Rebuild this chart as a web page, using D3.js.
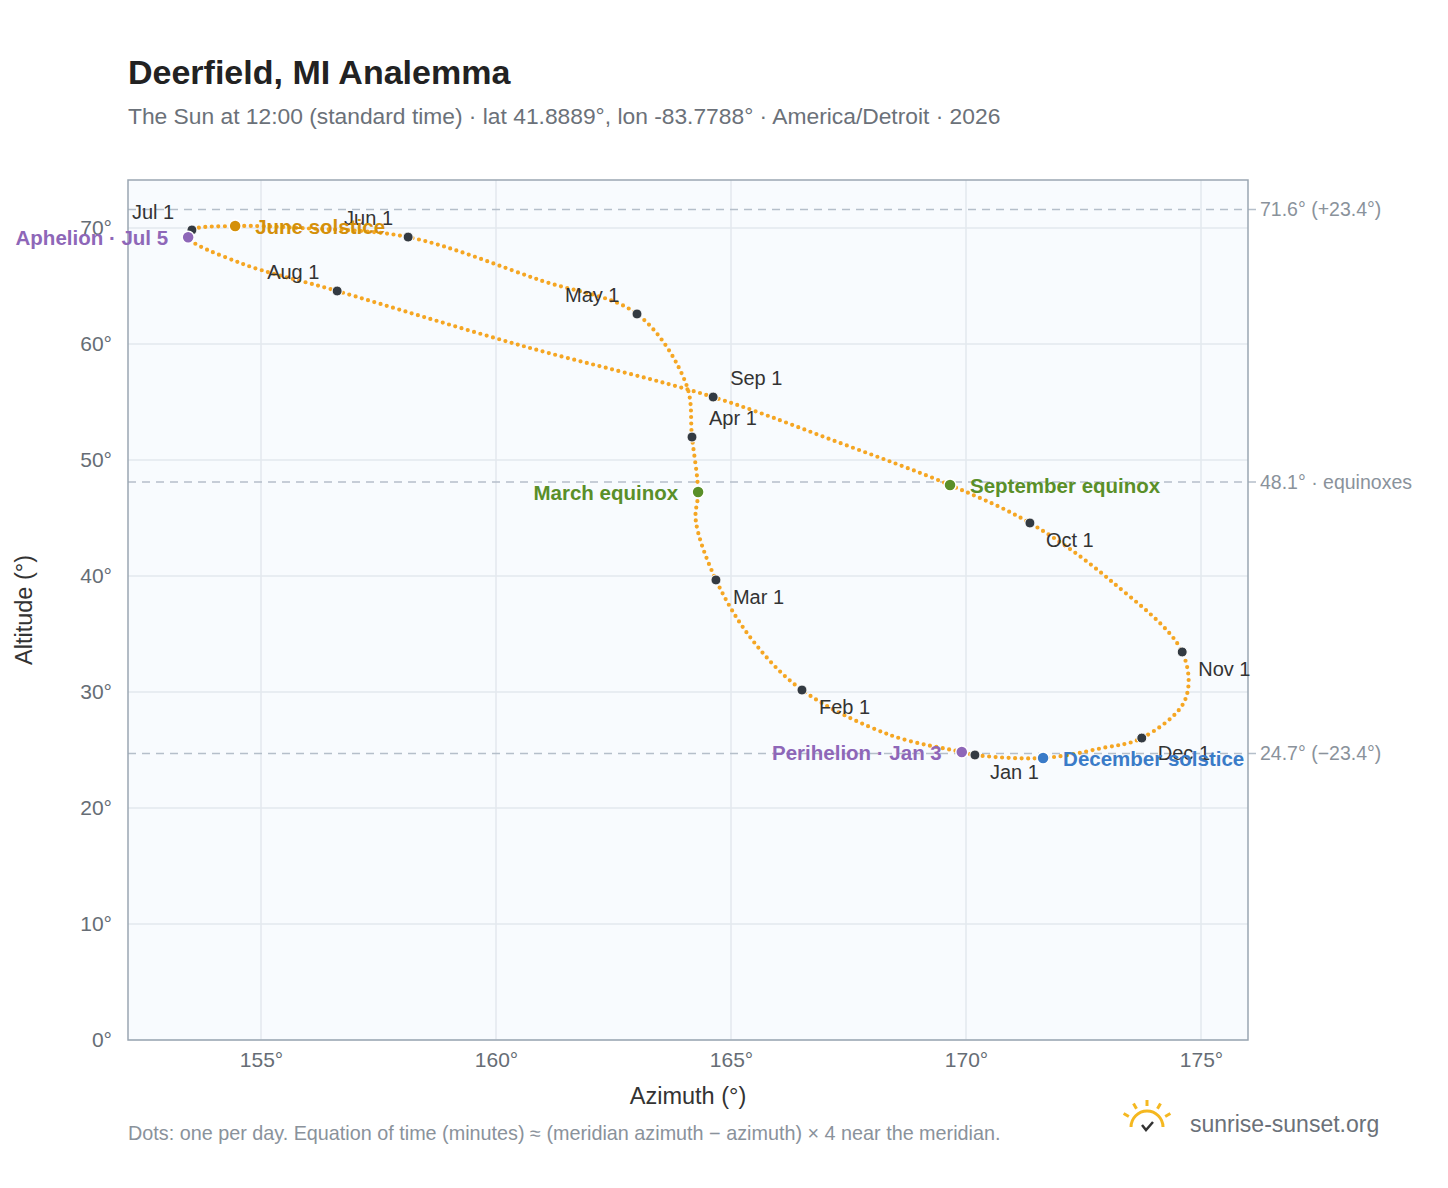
<!DOCTYPE html><html><head><meta charset="utf-8">
<script src="https://cdn.jsdelivr.net/npm/d3@7"></script>
<style>body{margin:0;background:#fff;font-family:"Liberation Sans",Arial,sans-serif}</style></head><body>
<svg id="c" width="1448" height="1188"></svg>
<script>
// path samples (azimuth, altitude), Jan 1 → Dec
const pathAz = [170.19,169.91,168.38,166.51,165.45,164.68,164.25,164.30,164.17,164.05,163.0,160.94,158.13,155.83,154.45,153.53,153.45,154.55,156.62,160.51,164.62,167.32,169.66,171.36,173.06,174.6,174.66,173.74,172.9,171.64];
const pathAlt = [24.57,24.83,26.3,30.17,34.5,39.66,44.8,47.24,51.98,56.5,62.59,65.5,69.22,70.0,70.17,69.83,69.2,67.0,64.57,59.9,55.43,51.47,47.84,44.57,39.66,33.45,29.3,26.03,25.17,24.31];
const months = ["Jan 1","Feb 1","Mar 1","Apr 1","May 1","Jun 1","Jul 1","Aug 1","Sep 1","Oct 1","Nov 1","Dec 1"];
const monthAz = [170.19,166.51,164.68,164.17,163.0,158.13,153.53,156.62,164.62,171.36,174.6,173.74];
const monthAlt = [24.57,30.17,39.66,51.98,62.59,69.22,69.83,64.57,55.43,44.57,33.45,26.03];
const monthDx = [15,17,17,17,-72,-64,-60,-70,17,16,16,16];
const monthDy = [24,24,24,-12,-12,-12,-11,-12,-12,24,24,22];
const events = ["March equinox","June solstice","September equinox","December solstice","Aphelion · Jul 5","Perihelion · Jan 3"];
const eventAz = [164.30,154.45,169.66,171.64,153.45,169.91];
const eventAlt = [47.24,70.17,47.84,24.31,69.2,24.83];
const eventColor = ["#5a8f29","#d4900a","#5a8f29","#3a7bc8","#8e67b8","#8e67b8"];
const eventSide = ["left","right","right","right","left","left"];
const refLines = [71.6,48.1,24.7];
const refLabels = ["71.6° (+23.4°)","48.1° · equinoxes","24.7° (−23.4°)"];
const xTicks=[155,160,165,170,175], yTicks=[0,10,20,30,40,50,60,70];

const svg=d3.select("#c");
const L=128,R=1248,T=180,B=1040;
const x=d3.scaleLinear().domain([152.17,176]).range([L,R]);
const y=d3.scaleLinear().domain([0,74.14]).range([B,T]);
svg.append("rect").attr("x",L).attr("y",T).attr("width",R-L).attr("height",B-T).attr("fill","#f8fbfe");
svg.append("g").selectAll("line").data(xTicks).join("line").attr("x1",d=>x(d)).attr("x2",d=>x(d)).attr("y1",T).attr("y2",B).attr("stroke","#e3e8ee").attr("stroke-width",1.5);
svg.append("g").selectAll("line").data(yTicks).join("line").attr("x1",L).attr("x2",R).attr("y1",d=>y(d)).attr("y2",d=>y(d)).attr("stroke","#e3e8ee").attr("stroke-width",1.5);
refLines.forEach((v,i)=>{
 svg.append("line").attr("x1",L).attr("x2",R+8).attr("y1",y(v)).attr("y2",y(v)).attr("stroke","#b5bfca").attr("stroke-width",1.5).attr("stroke-dasharray","8,6");
 svg.append("text").attr("x",1260).attr("y",y(v)+7).text(refLabels[i]).attr("fill","#8a929b").attr("font-size",19.5);
});
svg.append("rect").attr("x",L).attr("y",T).attr("width",R-L).attr("height",B-T).attr("fill","none").attr("stroke","#9aa6b2").attr("stroke-width",1.5);
const xa=svg.append("g").attr("transform",`translate(0,${B})`).call(d3.axisBottom(x).tickValues(xTicks).tickFormat(d=>d+"°").tickSize(0).tickPadding(12));
const ya=svg.append("g").attr("transform",`translate(${L},0)`).call(d3.axisLeft(y).tickValues(yTicks).tickFormat(d=>d+"°").tickSize(0).tickPadding(16));
[xa,ya].forEach(a=>{a.select(".domain").remove();a.selectAll("text").attr("font-size",21).attr("fill","#666d75").attr("font-family","Liberation Sans, Arial");});
svg.append("text").attr("x",688).attr("y",1104).attr("text-anchor","middle").text("Azimuth (°)").attr("font-size",23.5).attr("fill","#333");
svg.append("text").attr("transform","translate(32,610) rotate(-90)").attr("text-anchor","middle").text("Altitude (°)").attr("font-size",23.5).attr("fill","#333");

const pts=pathAz.map((a,i)=>[x(a),y(pathAlt[i])]);
svg.append("path").attr("d",d3.line().curve(d3.curveCatmullRomClosed.alpha(0.5))(pts)).attr("fill","none").attr("stroke","#f5a623").attr("stroke-width",4.2).attr("stroke-linecap","round").attr("stroke-dasharray","0 6.5");

months.forEach((m,i)=>{
 svg.append("circle").attr("cx",x(monthAz[i])).attr("cy",y(monthAlt[i])).attr("r",5).attr("fill","#333a42").attr("stroke","#fff").attr("stroke-width",1);
 svg.append("text").attr("x",x(monthAz[i])+monthDx[i]).attr("y",y(monthAlt[i])+monthDy[i]).text(m).attr("font-size",20).attr("fill","#333");
});
events.forEach((e,i)=>{
 const cx=x(eventAz[i]),cy=y(eventAlt[i]);
 svg.append("circle").attr("cx",cx).attr("cy",cy).attr("r",6).attr("fill",eventColor[i]).attr("stroke","#fff").attr("stroke-width",1.5);
 svg.append("text").attr("x",eventSide[i]=="left"?cx-20:cx+20).attr("y",cy+8).attr("text-anchor",eventSide[i]=="left"?"end":"start").text(e).attr("font-size",20.5).attr("font-weight","bold").attr("fill",eventColor[i]);
});
svg.append("text").attr("x",128).attr("y",84).text("Deerfield, MI Analemma").attr("font-size",34).attr("font-weight","bold").attr("fill","#222");
svg.append("text").attr("x",128).attr("y",124).text("The Sun at 12:00 (standard time) · lat 41.8889°, lon -83.7788° · America/Detroit · 2026").attr("font-size",22.8).attr("fill","#6b7179");
svg.append("text").attr("x",128).attr("y",1140).text("Dots: one per day. Equation of time (minutes) ≈ (meridian azimuth − azimuth) × 4 near the meridian.").attr("font-size",19.8).attr("fill","#8a929b");
svg.append("text").attr("x",1190).attr("y",1132).text("sunrise-sunset.org").attr("font-size",23).attr("fill","#6b7179");
const g=svg.append("g").attr("transform","translate(1147,1127)");
g.append("path").attr("d","M-16,0 A16,16 0 0 1 16,0").attr("fill","none").attr("stroke","#f5b820").attr("stroke-width",3);
[-150,-120,-90,-60,-30].forEach(a=>{const r=a*Math.PI/180;g.append("line").attr("x1",21*Math.cos(r)).attr("y1",21*Math.sin(r)).attr("x2",27*Math.cos(r)).attr("y2",27*Math.sin(r)).attr("stroke","#f5b820").attr("stroke-width",3);});
g.append("path").attr("d","M-5,-2 L-1,3 L6,-5").attr("fill","none").attr("stroke","#333").attr("stroke-width",2.5);
</script></body></html>
